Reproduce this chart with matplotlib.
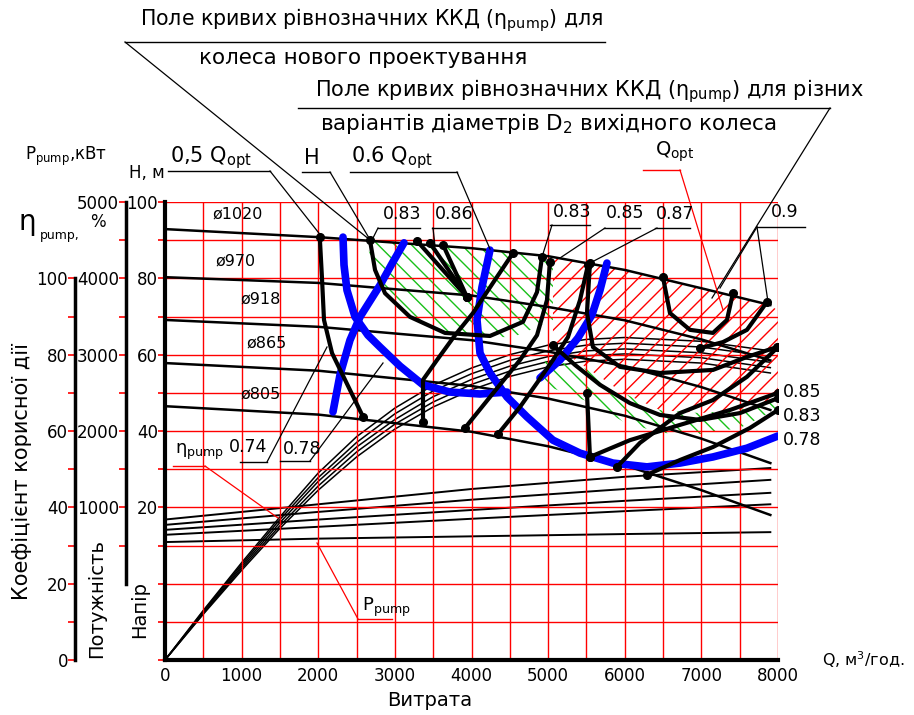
import numpy as np
import matplotlib
matplotlib.use('Agg')
import matplotlib.pyplot as plt
from matplotlib.patches import Polygon
from matplotlib.ticker import MultipleLocator, FixedLocator

plt.rcParams['font.family'] = 'DejaVu Sans'
plt.rcParams['mathtext.fontset'] = 'dejavusans'
plt.rcParams['mathtext.default'] = 'regular'
plt.rcParams['hatch.linewidth'] = 1.0

# Q, м3/год  |  H, м  |  ККД, %  |  P, кВт
q_h = [0, 2000, 4000, 5000, 6000, 7000, 7900]
d_labels = ['ø1020', 'ø970', 'ø918', 'ø865', 'ø805']
h_1020 = [92.9, 90.8, 87.9, 85.8, 82.2, 77.4, 73.0]
h_970 = [80.3, 78.8, 75.5, 72.5, 69.0, 64.0, 58.5]
h_918 = [69.1, 67.3, 63.8, 60.8, 57.0, 51.5, 45.5]
h_865 = [57.8, 55.8, 51.8, 48.5, 44.0, 38.0, 31.6]
h_805 = [46.5, 44.3, 39.8, 36.0, 31.0, 24.5, 18.0]
h_curves = [h_1020, h_970, h_918, h_865, h_805]

q_eta = [0, 500, 1000, 1500, 2000, 2500, 3000, 3500, 4000, 4500, 5000, 5500, 6000, 7000, 7900]
eta_1 = [0, 13.0, 25.5, 37.5, 49.0, 58.5, 66.0, 72.0, 76.5, 80.0, 82.5, 84.0, 84.5, 83.5, 81.0]
eta_2 = [0, 12.8, 25.0, 36.8, 47.8, 57.0, 64.5, 70.5, 75.0, 78.5, 81.0, 82.5, 83.0, 82.0, 79.5]
eta_3 = [0, 12.5, 24.5, 36.0, 46.8, 55.8, 63.0, 69.0, 73.5, 77.0, 79.5, 81.0, 81.5, 80.5, 78.0]
eta_4 = [0, 12.2, 24.0, 35.2, 45.6, 54.5, 61.8, 67.6, 72.2, 75.7, 78.2, 79.7, 80.2, 79.2, 76.6]
eta_5 = [0, 12.0, 23.5, 34.5, 44.5, 53.2, 60.5, 66.3, 70.8, 74.3, 76.8, 78.3, 78.8, 77.8, 75.2]
eta_curves = [eta_1, eta_2, eta_3, eta_4, eta_5]

q_p = [0, 2000, 4000, 6000, 7900]
p_1 = [840, 1040, 1240, 1400, 1515]
p_2 = [770, 940, 1100, 1240, 1360]
p_3 = [705, 840, 965, 1085, 1190]
p_4 = [640, 745, 850, 950, 1040]
p_5 = [545, 590, 620, 650, 675]
p_curves = [p_1, p_2, p_3, p_4, p_5]

# ізолінії ККД вихідного колеса (Q, H)
iso_orig = [
    ([2020, 2050, 2075, 2180, 2350, 2585], [90.8, 79.6, 69.1, 60.4, 53.4, 43.7]),
    ([2675, 2741, 2871, 3197, 3654, 4241, 4672, 4855, 4920], [90.0, 82.2, 76.1, 69.9, 65.7, 64.9, 68.6, 76.4, 85.6]),
    ([3289, 3941], [89.8, 75.1]),
    ([3458, 3941], [89.3, 75.1]),
    ([3628, 3941], [88.8, 75.1]),
    ([3367, 3367, 3550, 3785, 4019, 4280, 4541], [42.4, 53.4, 58.6, 65.1, 70.9, 78.8, 86.6]),
    ([3915, 4241, 4633, 4855, 4985, 5024], [40.8, 48.9, 58.6, 65.1, 74.3, 84.3]),
    ([4346, 4633, 4855, 5063, 5259, 5416, 5520], [39.2, 46.3, 52.6, 58.6, 64.6, 74.3, 83.5]),
    ([5546, 5507, 5585, 5938, 6460, 7151, 7595, 7987], [84.0, 70.9, 62.0, 56.8, 55.2, 56.0, 59.4, 62.0]),
    ([6499, 6590, 6851, 7151, 7334, 7412], [80.3, 70.9, 66.5, 65.7, 69.1, 76.1]),
    ([7856, 7595, 7282, 6982], [73.8, 66.5, 63.3, 61.7]),
    ([5063, 5351, 5677, 6068, 6460, 6982, 7504, 8000], [62.5, 57.3, 52.1, 47.3, 44.2, 42.9, 44.7, 48.6]),
    ([5899, 6199, 6721, 7151, 7595, 8000], [30.6, 36.9, 44.7, 48.1, 54.2, 62.0]),
    ([5546, 6068, 6721, 7373, 8000], [33.2, 37.6, 41.6, 45.5, 50.0]),
    ([6290, 6721, 7151, 7634, 8000], [28.5, 32.4, 35.8, 40.8, 45.5]),
    ([5507, 5546], [50.0, 33.2]),
]

# ізолінії ККД колеса нового проектування
iso_new = [
    ([2323, 2336, 2375, 2480, 2649, 2806, 3067, 3367, 3719, 4111, 4463],
     [90.8, 83.5, 76.9, 69.9, 65.1, 62.0, 57.0, 52.1, 50.2, 49.7, 50.2]),
    ([3119, 2975, 2806, 2545, 2414, 2284, 2192], [89.3, 84.3, 78.2, 69.9, 63.8, 54.7, 45.0]),
    ([4241, 4137, 4072, 4111, 4241, 4463, 4724, 5063, 5416, 5846, 6290, 6721, 7151, 7595, 8000],
     [87.4, 77.7, 69.1, 60.4, 55.2, 48.9, 43.7, 37.6, 34.2, 31.6, 30.6, 31.6, 33.2, 35.5, 38.7]),
    ([5768, 5677, 5572, 5390, 5155, 4894], [84.0, 76.9, 70.4, 64.4, 58.6, 53.9]),
]

# поля рівнозначних ККД
green_low_q = [2610, 2741, 2871, 3197, 3654, 4241, 4541, 4985, 5063]
green_low_h = [90.2, 82.2, 76.1, 69.9, 65.7, 64.6, 64.6, 68.3, 69.1]
strip_q = [4959, 5546, 5977, 6460, 6982, 7504, 7960]
strip_top_h = [59.0, 56.0, 50.0, 45.5, 44.7, 45.5, 48.3]
strip_low_h = [52.0, 47.5, 42.5, 39.5, 39.2, 40.8, 45.5]
red_low_q = [5063, 5546, 5977, 6460, 6982, 7504, 8000]
red_low_h = [62.5, 56.0, 50.0, 45.5, 44.7, 45.5, 48.6]

q_ticks = list(range(0, 8001, 1000))
h_ticks = list(range(-20, 101, 10))
h_ticklabels = ['', '', '', '', '20', '', '40', '', '60', '', '80', '', '100']
eta_ticks = [0, 20, 40, 60, 80, 100]
p_ticks = [1000, 2000, 3000, 4000, 5000]

W, H = 914, 715
fig = plt.figure(figsize=(W / 100, H / 100), dpi=100)
box = [165 / W, 55 / H, 613 / W, 458 / H]

ax = fig.add_axes(box)
ax_eta = ax.twinx()
ax_p = ax.twinx()
for tw in (ax_eta, ax_p):
    tw.set_zorder(1)
    tw.axis('off')
ax.set_zorder(2)
ax.patch.set_visible(False)

ax.set_xlim(0, 8000)
ax.set_ylim(-20, 100)
ax_eta.set_ylim(0, 120)
ax_p.set_ylim(-1000, 5000)

ax.xaxis.set_major_locator(FixedLocator(q_ticks))
ax.xaxis.set_minor_locator(MultipleLocator(500))
ax.set_yticks(h_ticks)
ax.set_yticklabels(h_ticklabels)
ax.tick_params(axis='x', which='both', length=0, pad=5, labelsize=12)
ax.tick_params(axis='y', colors='red', labelcolor='black', length=5, width=1.2,
               pad=0, labelsize=12)
ax.set_axisbelow('line')
ax.grid(True, which='both', color='red', lw=1.0)
for s in ('top', 'right'):
    ax.spines[s].set_visible(False)
for s in ('left', 'bottom'):
    ax.spines[s].set_linewidth(3)

# криві H-Q, ККД та потужності
for h in h_curves:
    ax.plot(q_h, h, color='black', lw=1.8, zorder=2)
for e in eta_curves:
    ax_eta.plot(q_eta, e, color='black', lw=1.1)
for p in p_curves:
    ax_p.plot(q_p, p, color='black', lw=1.4)

# штриховка полів
q_top_g = np.linspace(green_low_q[0], green_low_q[-1], 30)
green_poly = np.vstack([np.column_stack([q_top_g, np.interp(q_top_g, q_h, h_1020)]),
                        np.column_stack([green_low_q, green_low_h])[::-1]])
ax.add_patch(Polygon(green_poly, closed=True, facecolor='none', edgecolor='#19c019',
                     hatch='\\\\', lw=0, zorder=1))
strip_poly = np.vstack([np.column_stack([strip_q, strip_top_h]),
                        np.column_stack([strip_q, strip_low_h])[::-1]])
ax.add_patch(Polygon(strip_poly, closed=True, facecolor='none', edgecolor='#19c019',
                     hatch='\\\\', lw=0, zorder=1))
q_top_r = np.linspace(red_low_q[0], red_low_q[-1], 30)
red_poly = np.vstack([np.column_stack([q_top_r, np.interp(q_top_r, q_h + [8000], h_1020 + [71.5])]),
                      np.column_stack([red_low_q, red_low_h])[::-1]])
ax.add_patch(Polygon(red_poly, closed=True, facecolor='none', edgecolor='red',
                     hatch='//', lw=0, zorder=1))

for q, h in iso_new:
    ax.plot(q, h, color='#0000ff', lw=5.5, solid_capstyle='round', zorder=2.6)
for q, h in iso_orig:
    ax.plot(q, h, color='black', lw=3.0, solid_capstyle='round', zorder=3)
    ax.plot([q[0], q[-1]], [h[0], h[-1]], 'o', color='black', ms=5.5, zorder=3)


# додаткові шкали ККД та потужності
def side_axis(x_px, lims, bounds, major, minor):
    a = fig.add_axes([x_px / W, box[1], 0.0005, box[3]])
    a.set_ylim(*lims)
    a.patch.set_visible(False)
    for s in ('top', 'right', 'bottom'):
        a.spines[s].set_visible(False)
    a.spines['left'].set_linewidth(2.5)
    a.spines['left'].set_bounds(*bounds)
    a.set_xticks([])
    a.set_yticks(major)
    a.yaxis.set_minor_locator(FixedLocator(minor))
    a.tick_params(axis='y', which='both', colors='red', labelcolor='black',
                  length=5, width=1.2, pad=0, labelsize=12)
    return a


side_axis(75, (0, 120), (0, 100), eta_ticks, list(range(10, 100, 20)))
side_axis(126, (-1000, 5000), (0, 5000), p_ticks, list(range(500, 5000, 1000)))

# підписи та виноски
ov = fig.add_axes([0, 0, 1, 1], zorder=10)
ov.set_xlim(0, W)
ov.set_ylim(H, 0)
ov.axis('off')
ov.patch.set_visible(False)


def note(txt, x, y, size=12.5, ha='left', ul=None, leaders=(), color='black', rot=0):
    ov.text(x, y, txt, fontsize=size, ha=ha, va='center', rotation=rot)
    if ul is not None:
        ov.plot([ul[0], ul[1]], [ul[2], ul[2]], color=color, lw=1.0)
    for (x0, y0, x1, y1) in leaders:
        ov.plot([x0, x1], [y0, y1], color=color, lw=0.9)


note(r'Поле кривих рівнозначних ККД ($\eta_{pump}$) для', 140, 20, size=14.8,
     ul=(125, 605, 42), leaders=[(125, 42, 370, 240)])
note('колеса нового проектування', 363, 58, size=15.5, ha='center')
note(r'Поле кривих рівнозначних ККД ($\eta_{pump}$) для різних', 315, 91, size=15,
     ul=(298, 830, 108), leaders=[(830, 108, 712, 298)])
note(r'варіантів діаметрів $D_2$ вихідного колеса', 320, 124, size=15.5)

note(r'0,5 $Q_{opt}$', 170, 158, size=15, ul=(168, 270, 171), leaders=[(270, 171, 322, 237)])
note('H', 312, 158, size=15, ha='center', ul=(302, 330, 172), leaders=[(330, 172, 369, 238)])
note(r'0.6 $Q_{opt}$', 351, 158, size=15, ul=(350, 457, 172), leaders=[(457, 172, 490, 249)])
note(r'$Q_{opt}$', 655, 152, size=14, ul=(643, 680, 170), leaders=[(680, 170, 723, 310)],
     color='red')

note('0.83', 383, 214, ul=(378, 420, 228), leaders=[(378, 228, 372, 240)])
note('0.86', 435, 214, ul=(432, 470, 228), leaders=[(433, 228, 435, 246)])
note('0.83', 553, 212, ul=(550, 590, 225), leaders=[(552, 225, 542, 257)])
note('0.85', 606, 213, ul=(604, 640, 228), leaders=[(605, 228, 560, 258)])
note('0.87', 656, 214, ul=(655, 690, 228), leaders=[(657, 228, 590, 263)])
note('0.9', 771, 212, ul=(757, 805, 227), leaders=[(757, 227, 720, 288), (757, 227, 768, 302)])

note('0.74', 229, 447, ul=(240, 267, 462), leaders=[(267, 462, 327, 347)])
note('0.78', 283, 449, ul=(280, 310, 461), leaders=[(310, 461, 383, 363)])
note(r'$\eta_{pump}$', 175, 452, size=13, ul=(173, 205, 466), leaders=[(205, 466, 278, 518)],
     color='red')
note(r'$P_{pump}$', 362, 607, size=13, ul=(358, 392, 619), leaders=[(358, 619, 317, 543)],
     color='red')

note('0.85', 783, 392)
note('0.83', 783, 416)
note('0.78', 783, 440)

d_label_pos = [(238, 214), (236, 261), (261, 299), (267, 343), (261, 394)]
for lab, (x, y) in zip(d_labels, d_label_pos):
    note(lab, x, y, size=11.5, ha='center')

note(r'$P_{pump}$,кВт', 25, 156, size=12)
note('H, м', 147, 173, size=12, ha='center')
note('η', 27, 222, size=20, ha='center')
note('pump,', 40, 235, size=9)
note('%', 98, 222, size=12, ha='center')
note('Коефіцієнт корисної дії', 22, 472, size=15, ha='center', rot=90)
note('Потужність', 97, 598, size=14, ha='center', rot=90)
note('Напір', 140, 610, size=14, ha='center', rot=90)
note('Q, м$^3$/год.', 822, 660, size=11.5)
note('Витрата', 430, 701, size=14, ha='center')

fig.savefig('out.png', dpi=100)
